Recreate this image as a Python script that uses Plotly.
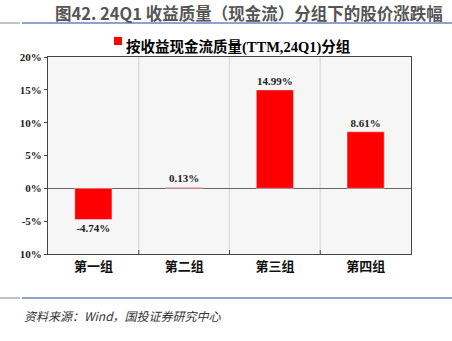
import plotly.graph_objects as go

categories = ["第一组", "第二组", "第三组", "第四组"]
values = [-4.74, 0.13, 14.99, 8.61]
tick_vals = [20, 15, 10, 5, 0, -5, -10]
tick_text = ["20%", "15%", "10%", "5%", "0%", "-5%", "10%"]
series_name = "按收益现金流质量(TTM,24Q1)分组"
title_text = "图42. 24Q1 收益质量（现金流）分组下的股价涨跌幅"
source_text = "资料来源：Wind，国投证券研究中心"

labels = [f"<b>{v:.2f}%</b>" for v in values]
MIX = "Liberation Serif, Noto Sans CJK SC"

fig = go.Figure()
fig.add_trace(go.Bar(
    x=list(range(len(categories))), y=values, marker_color="#ff0000",
    width=0.41, text=labels, textposition="outside",
    textfont=dict(family="Liberation Serif", size=11, color="#222222"),
    cliponaxis=False, name=series_name, showlegend=False,
))

fig.update_layout(
    width=452, height=341,
    margin=dict(l=48, r=41, t=57, b=87),
    paper_bgcolor="white", plot_bgcolor="#f6f6f6",
    xaxis=dict(range=[-0.5, 3.5], tickvals=[0, 1, 2, 3],
               ticktext=[f"<b>{c}</b>" for c in categories],
               showgrid=False, zeroline=False, showline=True, linecolor="#444444",
               linewidth=1, mirror=True, ticks="",
               tickfont=dict(family="Noto Sans CJK SC", size=13, color="#111111"),
               fixedrange=True),
    yaxis=dict(range=[-10, 20], tickvals=tick_vals,
               ticktext=[f"<b>{t}</b>" for t in tick_text],
               showgrid=False, zeroline=True, zerolinecolor="#666666", zerolinewidth=1,
               showline=True, linecolor="#444444", linewidth=1, mirror=True,
               ticks="outside", ticklen=3, tickcolor="#444444",
               tickfont=dict(family="Liberation Serif", size=11, color="#222222"),
               fixedrange=True),
    font=dict(family="Noto Sans CJK SC"),
)

# category separators
for b in [0.5, 1.5, 2.5]:
    fig.add_shape(type="line", xref="x", yref="y", x0=b, x1=b, y0=-10, y1=20,
                  line=dict(color="#dddddd", width=1.5), layer="below")
    fig.add_shape(type="line", xref="x", yref="y", x0=b, x1=b, y0=-10, y1=-9.4,
                  line=dict(color="#444444", width=1))

# title
fig.add_annotation(text="<b>" + title_text + "</b>", xref="paper", yref="paper",
                   x=(445 - 48) / 363, y=1 + (57 - 13) / 197, xanchor="right", yanchor="middle",
                   showarrow=False, font=dict(family="Noto Sans CJK SC", size=16.5, color="#555555"))
# title rules
for y in [23, 298]:
    fig.add_shape(type="line", xref="paper", yref="paper",
                  x0=-48 / 363, x1=-28 / 363, y0=(254 - y) / 197, y1=(254 - y) / 197,
                  line=dict(color="#888888", width=1))
    fig.add_shape(type="line", xref="paper", yref="paper",
                  x0=-26 / 363, x1=(452 - 48) / 363, y0=(254 - y) / 197, y1=(254 - y) / 197,
                  line=dict(color="#8ea3cc", width=2))

# legend
fig.add_shape(type="rect", xref="paper", yref="paper",
              x0=(114 - 48) / 363, x1=(122 - 48) / 363,
              y0=(254 - 45) / 197, y1=(254 - 37) / 197,
              fillcolor="#ff0000", line=dict(width=0))
fig.add_annotation(text="<b>" + series_name + "</b>", xref="paper", yref="paper",
                   x=(124 - 48) / 363, y=(254 - 47) / 197, xanchor="left", yanchor="middle",
                   showarrow=False, font=dict(family=MIX, size=14.5, color="#000000"))

# source
fig.add_annotation(text="<i>" + source_text + "</i>", xref="paper", yref="paper",
                   x=(22 - 48) / 363, y=(254 - 315) / 197, xanchor="left", yanchor="middle",
                   showarrow=False, font=dict(family="Noto Sans CJK SC", size=12, color="#333333"))

fig.write_html("out.html")
